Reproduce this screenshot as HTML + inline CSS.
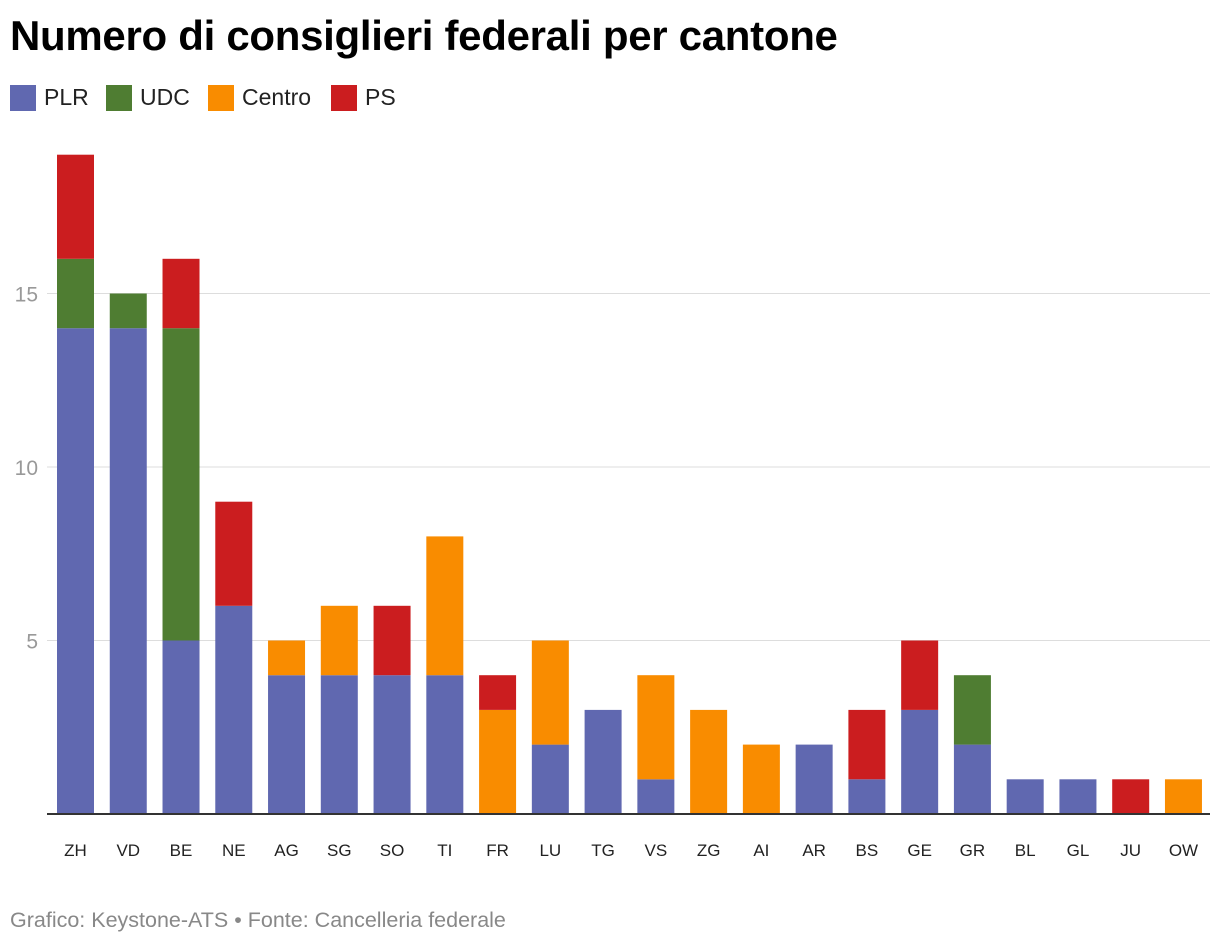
<!DOCTYPE html>
<html><head><meta charset="utf-8"><style>
body{margin:0;background:#fff;font-family:"Liberation Sans",Arial,sans-serif;}
#wrap{position:relative;width:1220px;height:946px;overflow:hidden;}
h1{position:absolute;left:10px;top:12px;margin:0;font-size:42px;font-weight:bold;color:#000;letter-spacing:-0.3px;}
.leg{position:absolute;top:84px;display:flex;align-items:center;font-size:23px;color:#222;}
.sw{width:26px;height:26px;margin-right:8px;}
#foot{position:absolute;left:10px;top:908px;font-size:21.5px;color:#888;}
</style></head><body><div id="wrap">
<h1>Numero di consiglieri federali per cantone</h1>
<div class="leg" style="left:10px"><div class="sw" style="background:#6068b0"></div>PLR</div>
<div class="leg" style="left:106px"><div class="sw" style="background:#4f7d32"></div>UDC</div>
<div class="leg" style="left:208px"><div class="sw" style="background:#f98c00"></div>Centro</div>
<div class="leg" style="left:331px"><div class="sw" style="background:#cb1d1f"></div>PS</div>
<svg id="chart" width="1220" height="946" style="position:absolute;left:0;top:0"></svg>
<div id="foot">Grafico: Keystone-ATS • Fonte: Cancelleria federale</div>
</div>
<script>
const cantons=["ZH","VD","BE","NE","AG","SG","SO","TI","FR","LU","TG","VS","ZG","AI","AR","BS","GE","GR","BL","GL","JU","OW"];
const plr=[14,14,5,6,4,4,4,4,0,2,3,1,0,0,2,1,3,2,1,1,0,0];
const udc=[2,1,9,0,0,0,0,0,0,0,0,0,0,0,0,0,0,2,0,0,0,0];
const centro=[0,0,0,0,1,2,0,4,3,3,0,3,3,2,0,0,0,0,0,0,0,1];
const ps=[3,0,2,3,0,0,2,0,1,0,0,0,0,0,0,2,2,0,0,0,1,0];
const yTicks=[5,10,15];
const series=[["plr",plr,"#6068b0"],["udc",udc,"#4f7d32"],["centro",centro,"#f98c00"],["ps",ps,"#cb1d1f"]];
const NS="http://www.w3.org/2000/svg";
const svg=document.getElementById("chart");
const y=v=>814-v*34.7;
const x=i=>75.5+i*52.76;
const bw=37;
function mk(t,a){const e=document.createElementNS(NS,t);for(const k in a)e.setAttribute(k,a[k]);svg.appendChild(e);return e;}
yTicks.forEach(t=>{
 const l=mk("line",{x1:47,x2:1210,y1:y(t),y2:y(t),stroke:"#dddddd","stroke-width":1});
 
 
 const tx=mk("text",{x:38,y:y(t)+8,"text-anchor":"end","font-size":21,fill:"#999","font-family":"Liberation Sans, Arial, sans-serif"});
 tx.textContent=t;
 
 
});
cantons.forEach((c,i)=>{
 let base=0;
 series.forEach(([n,arr,col])=>{
  const v=arr[i]; if(!v) return;
  const r=mk("rect",{x:x(i)-bw/2,y:y(base+v),width:bw,height:y(base)-y(base+v),fill:col});
  
  
  base+=v;
 });
 const tx=mk("text",{x:x(i),y:856,"text-anchor":"middle","font-size":17,fill:"#222","font-family":"Liberation Sans, Arial, sans-serif"});
 tx.textContent=c;
 
 
});
const ax=mk("line",{x1:47,x2:1210,y1:814,y2:814,stroke:"#333","stroke-width":2});


</script></body></html>
